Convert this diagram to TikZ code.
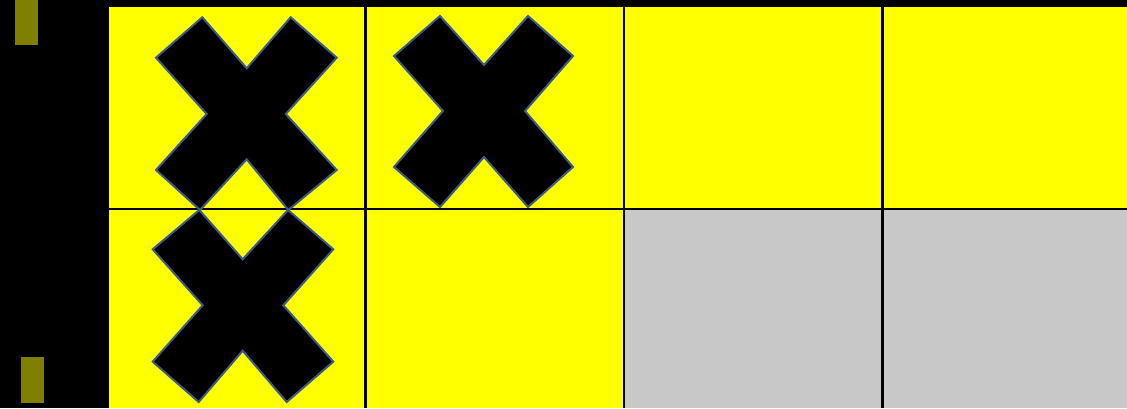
\documentclass[tikz,border=0pt]{standalone}
\begin{document}
\begin{tikzpicture}[x=1pt,y=-1pt,
  gridline/.style={line width=2.4pt,draw=black},
  crossmark/.style={fill=black,draw=xblue,line width=2pt,line join=miter},
  olivebar/.style={fill=olivebar}]
\definecolor{xblue}{RGB}{59,90,140}
\definecolor{olivebar}{RGB}{128,128,0}
\definecolor{cellgray}{RGB}{200,200,200}
\definecolor{cellyellow}{RGB}{255,255,0}
\useasboundingbox (0,0) rectangle (1127,408);
\fill[black] (0,0) rectangle (1127,408);
% cells
\fill[cellyellow] (108.5,7.3) rectangle (1127,408);
\fill[cellgray] (624,209) rectangle (1127,408);
% grid lines
\draw[gridline] (365.5,7) -- (365.5,408);
\draw[gridline] (624,7) -- (624,408);
\draw[gridline] (882.5,7) -- (882.5,408);
\draw[gridline] (108.5,209) -- (1127,209);
% olive bars
\fill[olivebar] (15,0) rectangle (37.7,44.7);
\fill[olivebar] (21,357) rectangle (43.7,402.7);
% crosses
\draw[crossmark] (202.3,17.3) -- (246.7,68.3) -- (290.7,17.3) -- (336.7,57.7) -- (285.7,114) -- (336.7,170) -- (288.3,210) -- (246.7,159.3) -- (200,210) -- (156,170) -- (206.7,114) -- (156,57.7) -- cycle;
\draw[crossmark] (440,16) -- (484,65) -- (528,16) -- (573,56) -- (525,111) -- (573,167) -- (528,207) -- (484,157) -- (440,207) -- (394,167) -- (443,111) -- (394,56) -- cycle;
\draw[crossmark] (199.3,210) -- (242.7,259.3) -- (288,210) -- (333.3,249.3) -- (283.3,305.3) -- (333.3,361.7) -- (286.7,402) -- (242.7,350.7) -- (198.7,402) -- (152.7,361.7) -- (202.7,305.3) -- (152.7,249.3) -- cycle;
\end{tikzpicture}
\end{document}
